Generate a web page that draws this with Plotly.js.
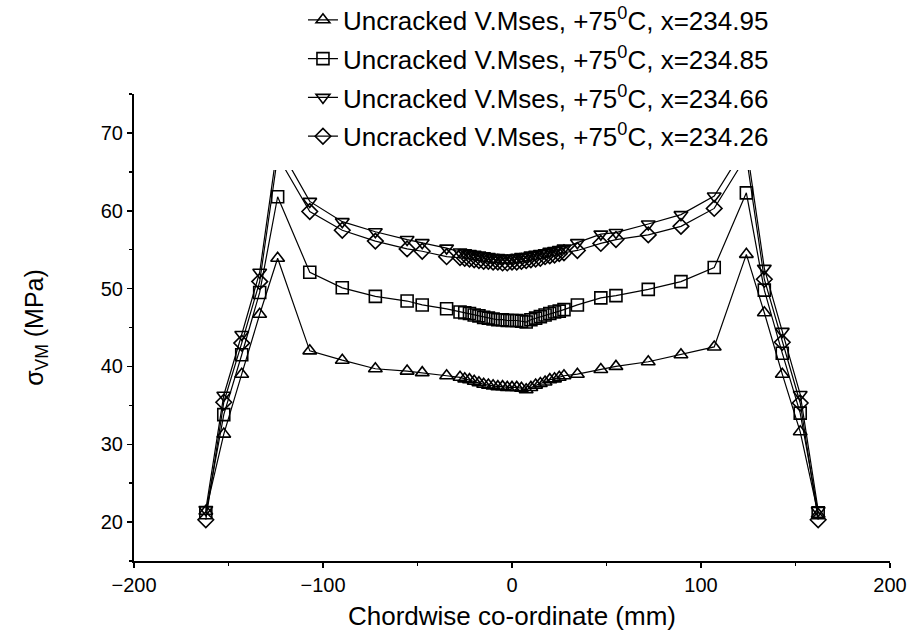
<!DOCTYPE html>
<html>
<head>
<meta charset="utf-8">
<script src="https://cdn.plot.ly/plotly-3.0.1.min.js"></script>
<style>html,body{margin:0;padding:0;background:#fff;}#chart{width:910px;height:640px;}</style>
</head>
<body>
<div id="chart"></div>
<script>
// Chordwise positions (mm)
const xLeft = [-162, -152.5, -143, -133.5, -124, -107, -89.8, -72.3, -55.5, -47.5, -34.6];
const xMid = [-27.5, -25, -22.5, -20, -17.5, -15, -12.5, -10, -7.5, -5, -2.5, 0, 2.5, 5, 7.5, 10, 12.5, 15, 17.5, 20, 22.5, 25, 27.5];
const xRight = [34.6, 47, 55, 72.1, 89.4, 107, 124, 133.5, 143, 152.5, 162];

// Series x=234.95 (triangle up)
const s1Left = [21.4, 31.3, 39.0, 46.7, 53.9, 42.0, 40.8, 39.7, 39.4, 39.2, 38.8];
const s1Mid = [38.6, 38.4, 38.3, 38.1, 37.9, 37.7, 37.6, 37.5, 37.4, 37.4, 37.3, 37.3, 37.3, 37.2, 37.0, 37.3, 37.6, 37.8, 38.0, 38.3, 38.4, 38.6, 38.8];
const s1Right = [39.0, 39.6, 40.0, 40.6, 41.5, 42.5, 54.4, 46.9, 39.0, 31.6, 21.0];

// Series x=234.85 (square)
const s2Left = [21.2, 33.8, 41.5, 49.5, 61.8, 52.1, 50.1, 49.0, 48.4, 47.9, 47.4];
const s2Mid = [47.0, 46.9, 46.8, 46.6, 46.5, 46.3, 46.2, 46.1, 46.0, 46.0, 45.9, 45.9, 45.9, 45.8, 45.7, 46.0, 46.2, 46.4, 46.6, 46.8, 47.0, 47.1, 47.3];
const s2Right = [47.9, 48.8, 49.1, 49.9, 50.9, 52.7, 62.3, 49.8, 41.7, 34.0, 21.2];

// Series x=234.66 (triangle down)
const s3Left = [21.6, 36.3, 44.1, 52.1, 68.5, 61.2, 58.6, 57.3, 56.3, 55.9, 55.2];
const s3Mid = [54.7, 54.6, 54.5, 54.4, 54.3, 54.2, 54.1, 54.0, 54.0, 53.9, 53.9, 53.9, 54.0, 54.1, 54.1, 54.3, 54.4, 54.5, 54.6, 54.8, 54.9, 55.0, 55.2];
const s3Right = [55.9, 57.0, 57.2, 58.3, 59.5, 61.9, 68.5, 52.6, 44.5, 36.4, 21.5];

// Series x=234.26 (diamond)
const s4Left = [20.3, 35.4, 43.0, 50.9, 67.0, 59.9, 57.5, 56.1, 55.1, 54.8, 54.1];
const s4Mid = [54.0, 53.9, 53.8, 53.7, 53.6, 53.5, 53.5, 53.4, 53.4, 53.3, 53.3, 53.4, 53.4, 53.5, 53.6, 53.7, 53.8, 53.9, 54.1, 54.2, 54.3, 54.5, 54.6];
const s4Right = [54.9, 55.8, 56.3, 56.9, 58.0, 60.3, 67.0, 51.2, 43.1, 35.3, 20.3];

const names = [
  'Uncracked V.Mses, +75<sup>0</sup>C, x=234.95',
  'Uncracked V.Mses, +75<sup>0</sup>C, x=234.85',
  'Uncracked V.Mses, +75<sup>0</sup>C, x=234.66',
  'Uncracked V.Mses, +75<sup>0</sup>C, x=234.26'
];
const symbols = ['triangle-up-open', 'square-open', 'triangle-down-open', 'diamond-open'];

const xs = xLeft.concat(xMid, xRight);
const ys = [
  s1Left.concat(s1Mid, s1Right),
  s2Left.concat(s2Mid, s2Right),
  s3Left.concat(s3Mid, s3Right),
  s4Left.concat(s4Mid, s4Right)
];

const FONT = '"Liberation Sans", Arial, sans-serif';

const traces = ys.map((y, i) => ({
  x: xs, y: y, type: 'scatter', mode: 'lines+markers', name: names[i],
  legendgroup: 'g' + i,
  line: {color: '#000', width: 1.2},
  marker: {symbol: symbols[i], size: 12, color: '#000', line: {color: '#000', width: 1.6}}
}));

const layout = {
  width: 910, height: 640,
  margin: {l: 134, r: 20, t: 94, b: 79, autoexpand: false},
  paper_bgcolor: '#fff', plot_bgcolor: '#fff',
  font: {family: FONT, color: '#000', size: 20},
  showlegend: true,
  legend: {
    x: 0.2235, xanchor: 'left', y: 1.209, yanchor: 'top',
    bgcolor: '#fff', borderwidth: 0,
    font: {family: FONT, size: 26, color: '#000'},
    tracegroupgap: 2, traceorder: 'grouped'
  },
  // white area behind the legend block (as in the original, where the legend box hides the tops of the peaks)
  shapes: [{
    type: 'rect', xref: 'paper', yref: 'paper', layer: 'above',
    x0: 0.177, x1: 0.87, y0: 0.837, y1: 1.2,
    fillcolor: '#fff', line: {width: 0}
  }],
  xaxis: {
    range: [-200, 200], tickmode: 'linear', tick0: -200, dtick: 100,
    showgrid: false, zeroline: false, showline: true, linecolor: '#000', linewidth: 2,
    ticks: 'outside', ticklen: 5, tickwidth: 1.5, tickcolor: '#000',
    minor: {dtick: 50, ticks: 'outside', ticklen: 3, tickwidth: 1.5, tickcolor: '#000'},
    tickfont: {family: FONT, size: 20},
    title: {text: 'Chordwise co-ordinate (mm)', font: {family: FONT, size: 26}, standoff: 12}
  },
  yaxis: {
    range: [15, 75], tickmode: 'linear', tick0: 20, dtick: 10,
    showgrid: false, zeroline: false, showline: true, linecolor: '#000', linewidth: 2,
    ticks: 'outside', ticklen: 5, tickwidth: 1.5, tickcolor: '#000',
    minor: {dtick: 5, ticks: 'outside', ticklen: 3, tickwidth: 1.5, tickcolor: '#000'},
    tickfont: {family: FONT, size: 20},
    title: {text: 'σ<sub>VM</sub> (MPa)', font: {family: FONT, size: 25}, standoff: 50}
  }
};

Plotly.newPlot('chart', traces, layout, {displayModeBar: false, staticPlot: true});
</script>
</body>
</html>
